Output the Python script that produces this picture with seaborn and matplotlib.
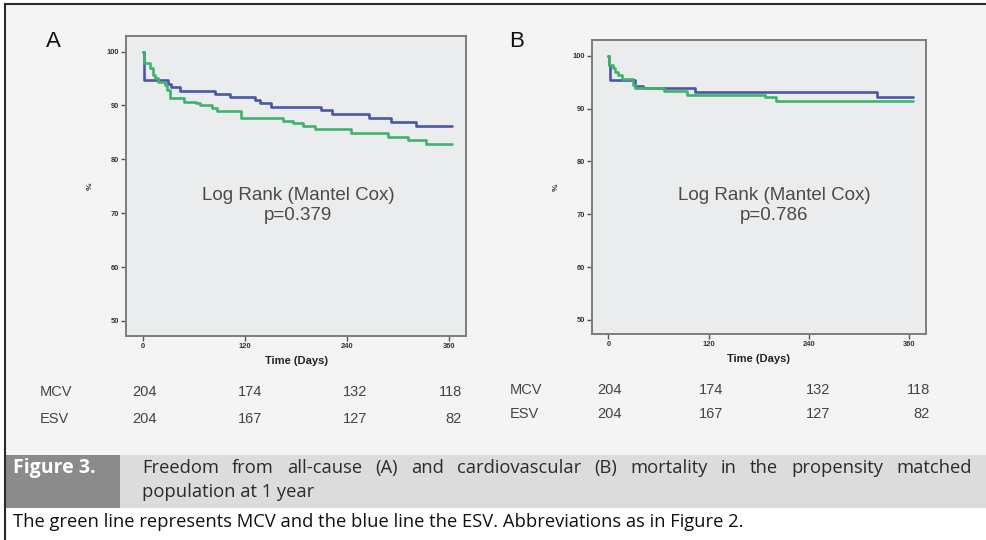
import matplotlib
matplotlib.use("Agg")
import matplotlib.pyplot as plt
import pandas as pd
import seaborn as sns
from matplotlib import font_manager
from matplotlib.patches import Rectangle
from matplotlib.lines import Line2D

# Kaplan-Meier step data (days, % event-free)
days_a_esv = [0, 1, 2, 30, 33, 44, 85, 103, 132, 138, 151, 210, 222, 266, 292, 321, 363]
surv_a_esv = [100, 97.5, 94.7, 94.0, 93.4, 92.6, 92.2, 91.6, 91.0, 90.4, 89.8, 89.2, 88.4, 87.7, 86.9, 86.1, 86.1]
days_a_mcv = [0, 1, 9, 12, 15, 18, 26, 29, 32, 48, 63, 67, 81, 87, 116, 165, 177, 188, 202, 245, 288, 312, 333, 363]
surv_a_mcv = [100, 97.8, 96.9, 95.7, 95.1, 94.4, 93.8, 92.9, 91.4, 90.7, 90.4, 90.1, 89.5, 88.9, 87.6, 87.2, 86.7, 86.2, 85.6, 84.9, 84.2, 83.5, 82.9, 82.9]

days_b_esv = [0, 1, 2, 32, 42, 104, 321, 365]
surv_b_esv = [100, 98.2, 95.4, 94.3, 93.8, 93.2, 92.1, 92.1]
days_b_mcv = [0, 1, 6, 8, 12, 16, 30, 32, 66, 94, 187, 201, 365]
surv_b_mcv = [100, 98.2, 97.6, 97.0, 96.4, 95.5, 94.5, 93.8, 93.4, 92.6, 92.1, 91.5, 91.5]

day_ticks = [0, 120, 240, 360]
pct_ticks = [50, 60, 70, 80, 90, 100]
groups = ["MCV", "ESV"]
at_risk_mcv = [204, 174, 132, 118]
at_risk_esv = [204, 167, 127, 82]
panel_labels = ["A", "B"]
p_values = ["p=0.379", "p=0.786"]
test_name = "Log Rank (Mantel Cox)"
fig_tag = "Figure 3."
caption_1 = "Freedom from all-cause (A) and cardiovascular (B) mortality in the propensity matched"
caption_2 = "population at 1 year"
footnote = "The green line represents MCV and the blue line the ESV. Abbreviations as in Figure 2."

palette = {"MCV": "#3fb36b", "ESV": "#4a56a6"}

sns.set_style("ticks")
plt.rcParams["font.family"] = ["Liberation Sans", "DejaVu Sans"]

installed = {f.name for f in font_manager.fontManager.ttflist}
cap_font = "Liberation Sans Narrow" if "Liberation Sans Narrow" in installed else "Open Sans"

W, H = 986, 540
fig = plt.figure(figsize=(W / 100, H / 100), dpi=100)
fig.patch.set_facecolor("white")


def fx(x):
    return x / W


def fy(y):
    return 1 - y / H


# page background, caption band and frame
def band(x0, y0, x1, y1, color):
    fig.patches.append(Rectangle((fx(x0), fy(y1)), (x1 - x0) / W, (y1 - y0) / H,
                                 transform=fig.transFigure, facecolor=color,
                                 edgecolor="none", zorder=-10))


band(5, 4, W, 455, "#f4f4f4")
band(5, 455, W, 508, "#dcdcdd")
band(5, 455, 120, 508, "#8b8b8b")
fig.lines.append(Line2D([fx(5), 1], [fy(4), fy(4)], transform=fig.transFigure,
                        color="#2a2a2a", lw=1.5, zorder=-5))
fig.lines.append(Line2D([fx(5), fx(5)], [fy(4), 0], transform=fig.transFigure,
                        color="#2a2a2a", lw=1.5, zorder=-5))

panels = [
    dict(box=(126, 336, 466, 36), xlim=(-19.6, 380), ylim=(47.2, 102.9),
         esv=(days_a_esv, surv_a_esv), mcv=(days_a_mcv, surv_a_mcv),
         label_xy=(53, 42), note_x=298,
         mcv_x=40, row_y=(392, 419), col_right=[157, 262, 367, 462]),
    dict(box=(591.7, 334, 925.7, 40), xlim=(-19.9, 379.6), ylim=(47.35, 102.97),
         esv=(days_b_esv, surv_b_esv), mcv=(days_b_mcv, surv_b_mcv),
         label_xy=(517, 42), note_x=774,
         mcv_x=510, row_y=(390, 414), col_right=[622, 723, 830, 930]),
]

for i, p in enumerate(panels):
    l, b, r, t = p["box"]
    ax = fig.add_axes([fx(l), fy(b), (r - l) / W, (b - t) / H])
    ax.set_zorder(2)
    ax.set_facecolor("#eaeced")

    frames = []
    for g in ["ESV", "MCV"]:
        d, s = p[g.lower()]
        frames.append(pd.DataFrame({"day": d, "pct": s, "group": g}))
    df = pd.concat(frames, ignore_index=True)
    for g in ["ESV", "MCV"]:
        sns.lineplot(data=df[df["group"] == g], x="day", y="pct", ax=ax,
                     color=palette[g], lw=1.9, drawstyle="steps-post",
                     estimator=None, sort=False, legend=False)

    ax.set_xlim(*p["xlim"])
    ax.set_ylim(*p["ylim"])
    ax.set_xticks(day_ticks)
    ax.set_yticks(pct_ticks)
    ax.tick_params(axis="both", labelsize=5.4, length=3.5, width=1.0, color="#555555",
                   labelcolor="#333333", pad=1.5)
    for lab in ax.get_xticklabels() + ax.get_yticklabels():
        lab.set_fontweight("bold")
    for sp in ax.spines.values():
        sp.set_visible(True)
        sp.set_color("#7c7c7c")
        sp.set_linewidth(1.4)
    ax.set_xlabel("Time (Days)", fontsize=8, fontweight="bold", color="#222222", labelpad=4)
    ax.set_ylabel("%", fontsize=6, fontweight="bold", color="#333333", labelpad=9)

    fig.text(fx(p["label_xy"][0]), fy(p["label_xy"][1]), panel_labels[i], fontsize=16,
             ha="center", va="center", color="#111111")
    fig.text(fx(p["note_x"]), fy(196), test_name, fontsize=13.5, ha="center", va="center",
             color="#4a4a4a")
    fig.text(fx(p["note_x"]), fy(215), p_values[i], fontsize=13.5, ha="center", va="center",
             color="#4a4a4a")

    for row, (g, vals) in enumerate(zip(groups, [at_risk_mcv, at_risk_esv])):
        y = fy(p["row_y"][row])
        fig.text(fx(p["mcv_x"]), y, g, fontsize=10.5, ha="left", va="center", color="#444444")
        for xr, v in zip(p["col_right"], vals):
            fig.text(fx(xr), y, str(v), fontsize=10.5, ha="right", va="center", color="#444444")

# caption
fig.text(fx(13), fy(468), fig_tag, fontsize=14, fontweight="bold", color="white",
         ha="left", va="center", family=[cap_font, "DejaVu Sans"])

renderer = fig.canvas.get_renderer()
cap_size = 13.2
words = caption_1.split(" ")
word_artists = [fig.text(0, fy(468), w, fontsize=cap_size, color="#2b2b2b", ha="left",
                         va="center", family=[cap_font, "DejaVu Sans"]) for w in words]
widths = [a.get_window_extent(renderer).width for a in word_artists]
x0, x1 = 142, 972
gap = (x1 - x0 - sum(widths)) / (len(words) - 1)
x = x0
for a, w in zip(word_artists, widths):
    a.set_x(fx(x))
    x += w + gap

fig.text(fx(142), fy(492), caption_2, fontsize=cap_size, color="#2b2b2b", ha="left",
         va="center", family=[cap_font, "DejaVu Sans"])
fig.text(fx(13), fy(522), footnote, fontsize=cap_size, color="#111111", ha="left",
         va="center", family=[cap_font, "DejaVu Sans"])

fig.savefig("out.png", dpi=100, facecolor=fig.get_facecolor())
